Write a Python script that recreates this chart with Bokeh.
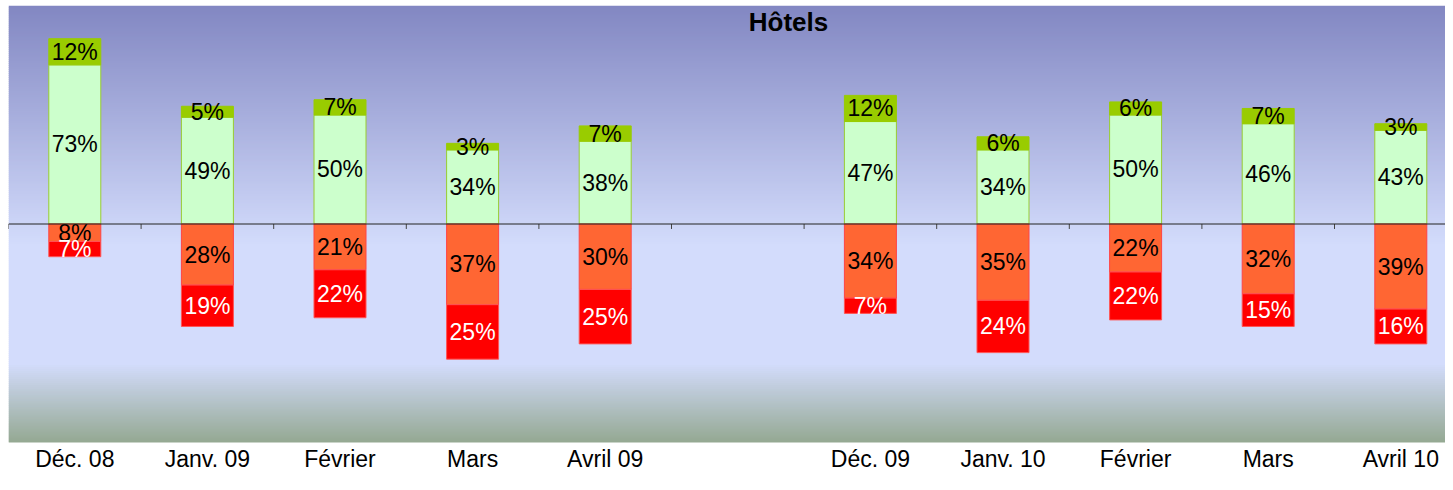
from bokeh.plotting import figure
from bokeh.models import Span, Label, FixedTicker, ColumnDataSource
from bokeh.core.properties import value
from bokeh.embed import file_html
from bokeh.resources import INLINE

# ---- data ----
categories = ["Déc. 08", "Janv. 09", "Février", "Mars", "Avril 09", "",
              "Déc. 09", "Janv. 10", "Février", "Mars", "Avril 10"]
plutot_pos = [73, 49, 50, 34, 38, None, 47, 34, 50, 46, 43]   # light green
tres_pos   = [12, 5, 7, 3, 7, None, 12, 6, 6, 7, 3]           # dark green
plutot_neg = [8, 28, 21, 37, 30, None, 34, 35, 22, 32, 39]    # orange
tres_neg   = [7, 19, 22, 25, 25, None, 7, 24, 22, 15, 16]     # red
title_text = "Hôtels"

FONT = "Liberation Sans"

# ---- derived sources ----
xs = [i for i, c in enumerate(categories) if c != ""]
lp = [plutot_pos[i] for i in xs]
dp = [tres_pos[i] for i in xs]
on = [plutot_neg[i] for i in xs]
rn = [tres_neg[i] for i in xs]

src = ColumnDataSource(dict(
    x=xs,
    lp_top=lp, lp_mid=[v / 2 for v in lp], lp_lab=[f"{v}%" for v in lp],
    dp_bot=lp, dp_top=[a + b for a, b in zip(lp, dp)],
    dp_mid=[a + b / 2 for a, b in zip(lp, dp)], dp_lab=[f"{v}%" for v in dp],
    on_bot=[-v for v in on], on_mid=[-v / 2 for v in on], on_lab=[f"{v}%" for v in on],
    rn_top=[-v for v in on], rn_bot=[-(a + b) for a, b in zip(on, rn)],
    rn_mid=[-(a + b / 2) for a, b in zip(on, rn)], rn_lab=[f"{v}%" for v in rn],
))

# ---- figure geometry ----
W, H = 1445, 474
LEFT, TOP, BOTTOM = 8, 5, 30
frame_w = W - LEFT
frame_h = H - TOP - BOTTOM
slot_px = 132.6
x_start = -0.5
x_end = x_start + frame_w / slot_px
px_per_unit = 2.19
zero_px = 224.5 - TOP          # zero line from frame top
y_end = zero_px / px_per_unit
y_start = -(frame_h - zero_px) / px_per_unit

p = figure(width=W, height=H, output_backend="svg", toolbar_location=None,
           x_range=(x_start, x_end), y_range=(y_start, y_end),
           min_border_left=LEFT, min_border_right=0, min_border_top=TOP,
           min_border_bottom=BOTTOM)
p.outline_line_color = None
p.grid.visible = False
p.yaxis.visible = False
p.background_fill_color = None
p.border_fill_color = "white"

# background gradient (decoration)
stops = [(0.0, (130, 135, 194)), (0.55, (211, 220, 252)),
         (0.82, (211, 220, 252)), (1.0, (148, 168, 146))]

def col_at(f):
    for (f0, c0), (f1, c1) in zip(stops[:-1], stops[1:]):
        if f0 <= f <= f1:
            t = 0 if f1 == f0 else (f - f0) / (f1 - f0)
            return "#%02x%02x%02x" % tuple(int(round(a + (b - a) * t)) for a, b in zip(c0, c1))
    return "#%02x%02x%02x" % stops[-1][1]

N = 220
span = y_end - y_start
tops = [y_end - span * k / N for k in range(N)]
bots = [y_end - span * (k + 1) / N - span * 0.002 for k in range(N)]
cols = [col_at((k + 0.5) / N) for k in range(N)]
p.quad(left=x_start, right=x_end, top=tops, bottom=bots, fill_color=cols,
       line_color=None)

bw = 52 / slot_px
p.vbar(x="x", width=bw, bottom=0, top="lp_top", source=src,
       fill_color="#ccffcc", line_color="#99cc33", line_width=1)
p.vbar(x="x", width=bw, bottom="dp_bot", top="dp_top", source=src,
       fill_color="#99cc00", line_color="#99cc00", line_width=1)
p.vbar(x="x", width=bw, bottom="on_bot", top=0, source=src,
       fill_color="#ff6633", line_color="#ff4444", line_width=1)
p.vbar(x="x", width=bw, bottom="rn_bot", top="rn_top", source=src,
       fill_color="#ff0000", line_color="#ff5555", line_width=1)

# zero line + boundary ticks
p.add_layout(Span(location=0, dimension="width", line_color="#222222", line_width=1))
bounds = [i - 0.5 for i in range(len(categories) + 1)]
p.segment(x0=bounds, x1=bounds, y0=0, y1=-5 / px_per_unit, line_color="#444444",
          line_width=1)

lbl = dict(source=src, text_font=value(FONT), text_font_size="23px",
           text_align="center", text_baseline="middle")
p.text(x="x", y="lp_mid", text="lp_lab", text_color="black", **lbl)
p.text(x="x", y="dp_mid", text="dp_lab", text_color="black", **lbl)
p.text(x="x", y="on_mid", text="on_lab", text_color="black", **lbl)
p.text(x="x", y="rn_mid", text="rn_lab", text_color="white", **lbl)

# title
p.add_layout(Label(x=(788 - LEFT) / slot_px - 0.5, y=(224.5 - 22) / px_per_unit,
                   text=title_text, text_font=FONT, text_font_size="26px",
                   text_font_style="bold", text_align="center",
                   text_baseline="middle", text_color="black"))

# x axis
ax = p.xaxis[0]
ax.ticker = FixedTicker(ticks=list(range(len(categories))))
ax.major_label_overrides = {i: c for i, c in enumerate(categories)}
ax.axis_line_color = None
ax.major_tick_line_color = None
ax.minor_tick_line_color = None
ax.major_tick_in = 0
ax.major_tick_out = 0
ax.major_label_text_font = FONT
ax.major_label_text_font_size = "23px"
ax.major_label_text_color = "black"
ax.major_label_standoff = 3

open("out.html", "w").write(file_html(p, INLINE))
